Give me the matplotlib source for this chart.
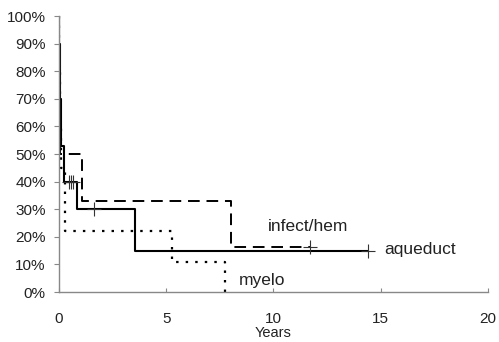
import matplotlib

matplotlib.use("Agg")

import matplotlib.pyplot as plt
from matplotlib.ticker import PercentFormatter

plt.rcParams["font.family"] = ["Liberation Sans", "DejaVu Sans"]

# Kaplan-Meier style step curves (years, % surviving)
aqueduct_t = [0, 0.02, 0.04, 0.06, 0.08, 0.10, 0.22, 0.84, 3.55, 14.4]
aqueduct_s = [100, 90, 80, 70, 60, 53, 40, 30, 15, 15]
aqueduct_cens_t = [0.48, 0.56, 0.64, 1.65, 14.4]
aqueduct_cens_s = [40, 40, 40, 30, 15]

infect_t = [0, 0.02, 0.04, 0.06, 1.1, 8.0, 11.7]
infect_s = [100, 85, 70, 50, 33, 16.5, 16.5]
infect_cens_t = [11.7]
infect_cens_s = [16.5]

myelo_t = [0, 0.02, 0.05, 0.1, 0.3, 5.25, 7.75]
myelo_s = [100, 80, 60, 45, 22, 11, 0]

labels = ["infect/hem", "aqueduct", "myelo"]
label_x = [9.73, 15.15, 8.4]
label_y = [22.1, 13.7, 2.5]

x_ticks = [0, 5, 10, 15, 20]
y_ticks = list(range(0, 101, 10))

fig = plt.figure(figsize=(4.99, 3.42), dpi=100)
ax = fig.add_axes([0.118, 0.146, 0.860, 0.807])

ax.plot(aqueduct_t, aqueduct_s, drawstyle="steps-post", color="black", linewidth=1.5)
ax.plot(infect_t, infect_s, drawstyle="steps-post", color="black", linewidth=1.4,
        linestyle=(0, (6, 3.5)))
ax.plot(myelo_t, myelo_s, drawstyle="steps-post", color="black", linewidth=1.6,
        linestyle=(0, (1.1, 3.2)))

ax.plot(aqueduct_cens_t, aqueduct_cens_s, linestyle="none", marker="+", markersize=10,
        markeredgewidth=0.8, color="#333333")
ax.plot(infect_cens_t, infect_cens_s, linestyle="none", marker="+", markersize=10,
        markeredgewidth=0.8, color="#333333")

for text, tx, ty in zip(labels, label_x, label_y):
    ax.text(tx, ty, text, fontsize=12.5, va="baseline", ha="left", color="#222222")

ax.set_xlim(0, 20)
ax.set_ylim(0, 100)
ax.set_xticks(x_ticks)
ax.set_yticks(y_ticks)
ax.yaxis.set_major_formatter(PercentFormatter(decimals=0))
ax.set_xlabel("Years", fontsize=10.5, labelpad=-0.5, color="#222222")

for side in ["top", "right"]:
    ax.spines[side].set_visible(False)
for side in ["left", "bottom"]:
    ax.spines[side].set_color("#888888")
    ax.spines[side].set_linewidth(1.0)

ax.tick_params(axis="x", direction="in", length=3, width=0.8, color="#888888",
               pad=14.5, labelsize=11, labelcolor="#222222")
ax.tick_params(axis="y", direction="out", length=3.5, width=0.8, color="#888888",
               pad=6, labelsize=11, labelcolor="#222222")

fig.savefig("out.png", dpi=100)
plt.close(fig)
